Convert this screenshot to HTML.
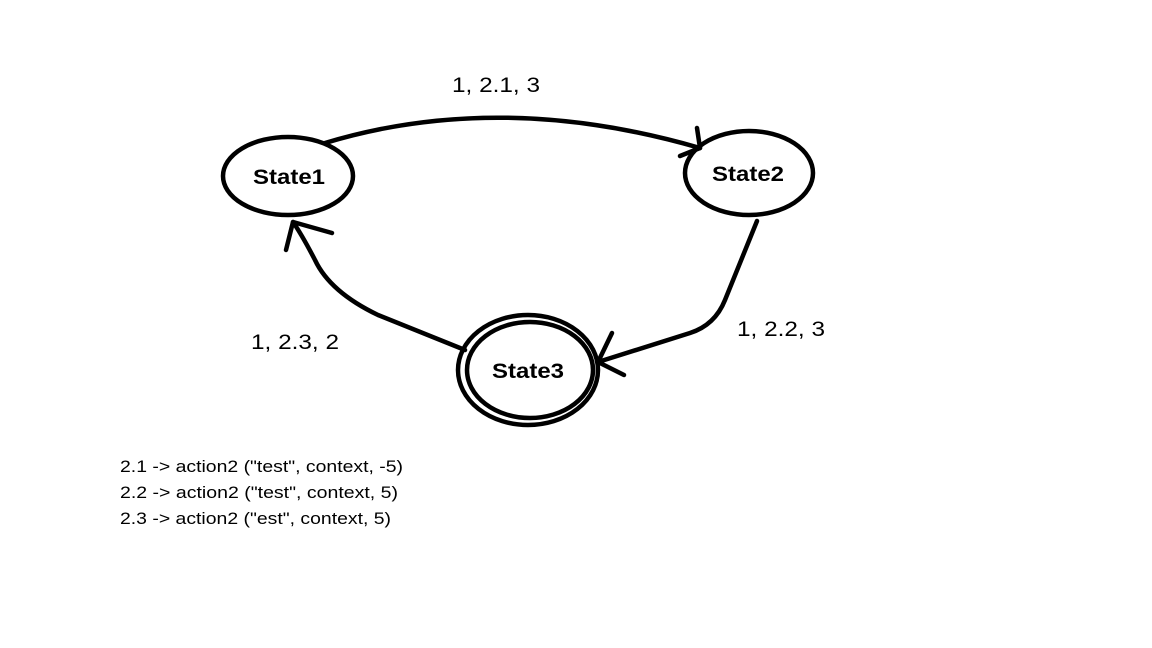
<!DOCTYPE html>
<html><head><meta charset="utf-8"><style>
html,body{margin:0;padding:0;background:#fff;width:1152px;height:648px;overflow:hidden}
svg{display:block}
text{font-family:"Liberation Sans",sans-serif;fill:#000}
</style></head><body>
<svg width="1152" height="648" viewBox="0 0 1152 648" xmlns="http://www.w3.org/2000/svg">
<g fill="none" stroke="#000" stroke-width="4.5" stroke-linecap="round" stroke-linejoin="round">
<ellipse cx="288" cy="176" rx="65" ry="39"/>
<ellipse cx="749" cy="173" rx="64" ry="42"/>
<ellipse cx="528" cy="370" rx="70" ry="55"/>
<ellipse cx="530" cy="370" rx="63" ry="48"/>
<path d="M325 143 Q500 90 700 148"/>
<path d="M697 128 L700 148 L680 156"/>
<path d="M757 221 L725 300 Q715 325 690 333 L598 362"/>
<path d="M612 333 L598 362 L624 375"/>
<path d="M465 350 L378 315 Q330 292 315 260 Q302 235 293 222"/>
<path d="M286 250 L293 222 L332 233"/>
</g>
<g font-weight="bold" font-size="21">
<text x="289" y="184" text-anchor="middle" textLength="72" lengthAdjust="spacingAndGlyphs">State1</text>
<text x="748" y="181" text-anchor="middle" textLength="72" lengthAdjust="spacingAndGlyphs">State2</text>
<text x="528" y="378" text-anchor="middle" textLength="72" lengthAdjust="spacingAndGlyphs">State3</text>
</g>
<g font-size="21">
<text x="452" y="92" textLength="88" lengthAdjust="spacingAndGlyphs">1, 2.1, 3</text>
<text x="737" y="336" textLength="88" lengthAdjust="spacingAndGlyphs">1, 2.2, 3</text>
<text x="251" y="349" textLength="88" lengthAdjust="spacingAndGlyphs">1, 2.3, 2</text>
</g>
<g font-size="17">
<text x="120" y="472" textLength="283" lengthAdjust="spacingAndGlyphs">2.1 -&gt; action2 ("test", context, -5)</text>
<text x="120" y="498" textLength="278" lengthAdjust="spacingAndGlyphs">2.2 -&gt; action2 ("test", context, 5)</text>
<text x="120" y="524" textLength="271" lengthAdjust="spacingAndGlyphs">2.3 -&gt; action2 ("est", context, 5)</text>
</g>
</svg>
</body></html>
